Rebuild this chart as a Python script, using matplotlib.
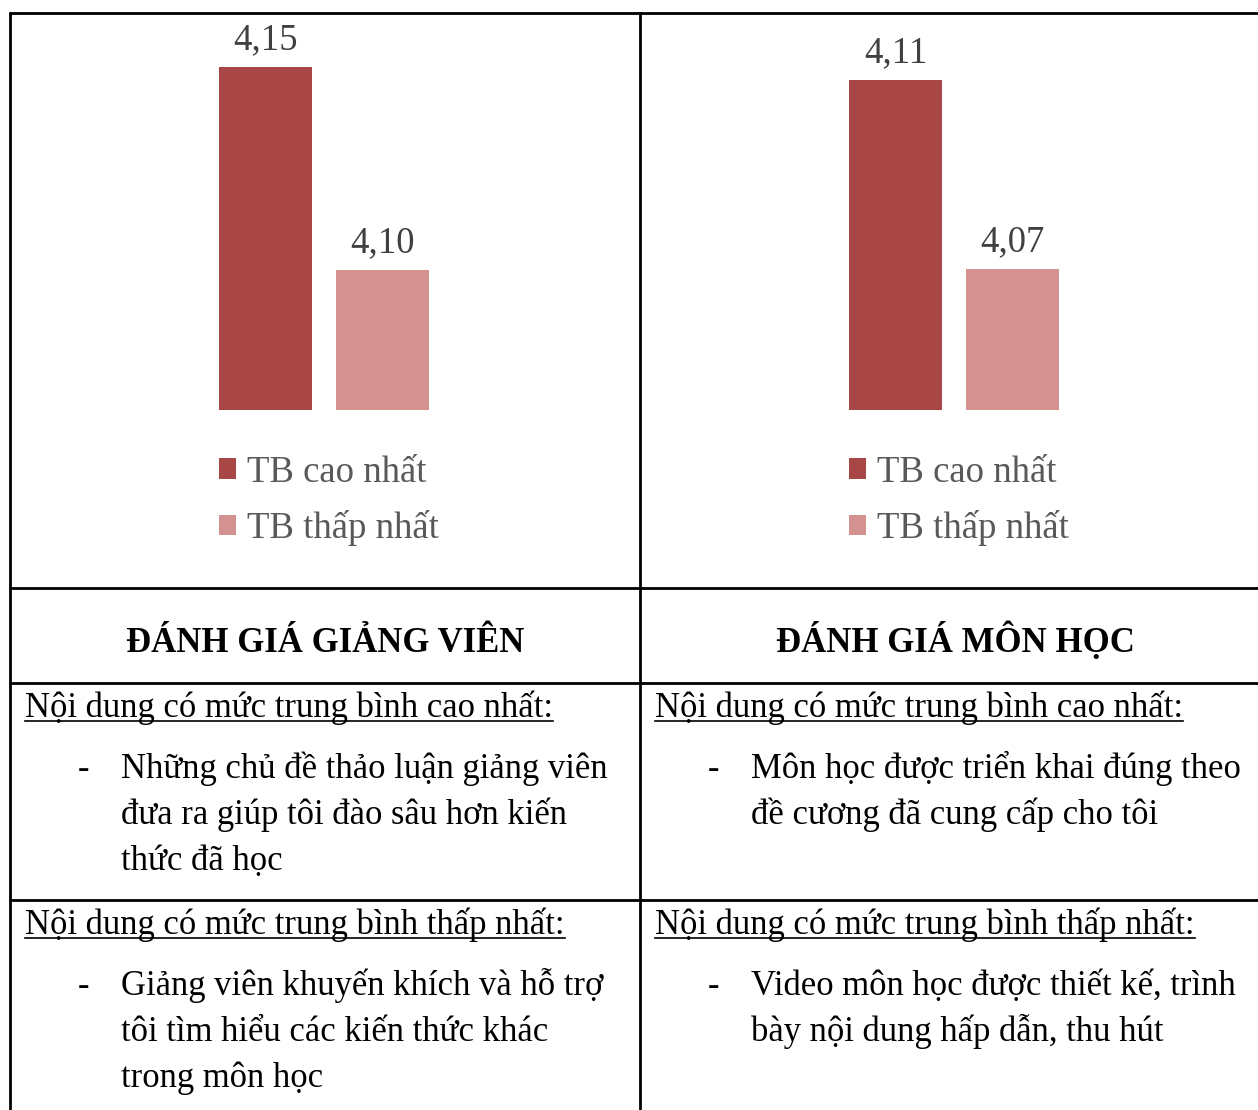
import matplotlib
matplotlib.use("Agg")
import matplotlib.pyplot as plt

plt.rcParams['font.family'] = ['Liberation Serif', 'DejaVu Serif']

# dữ liệu
series = ["TB cao nhất", "TB thấp nhất"]
gv_values = [4.15, 4.10]
mh_values = [4.11, 4.07]
colors = ["#A84745", "#D39290"]
headers = ["ĐÁNH GIÁ GIẢNG VIÊN", "ĐÁNH GIÁ MÔN HỌC"]
row_titles = ["Nội dung có mức trung bình cao nhất:", "Nội dung có mức trung bình thấp nhất:"]
gv_items = [["Những chủ đề thảo luận giảng viên", "đưa ra giúp tôi đào sâu hơn kiến", "thức đã học"],
            ["Giảng viên khuyến khích và hỗ trợ", "tôi tìm hiểu các kiến thức khác", "trong môn học"]]
mh_items = [["Môn học được triển khai đúng theo", "đề cương đã cung cấp cho tôi"],
            ["Video môn học được thiết kế, trình", "bày nội dung hấp dẫn, thu hút"]]

W, H = 1258, 1110
fig = plt.figure(figsize=(W / 100, H / 100), dpi=100)

# lớp nền dùng toạ độ pixel (gốc trên trái)
base = fig.add_axes([0, 0, 1, 1])
base.set_xlim(0, W)
base.set_ylim(H, 0)
base.axis("off")

lw = 2.0
for y in [13, 588, 683, 900]:
    base.plot([9, W], [y, y], color="black", lw=lw, solid_capstyle="butt")
for x in [10, 640]:
    base.plot([x, x], [12, H], color="black", lw=lw, solid_capstyle="butt")


def bar_chart(x_left, values, ylim):
    # trục pixel: x từ x_left tới x_left+351, y từ 13 tới 410
    ax = fig.add_axes([x_left / W, (H - 410) / H, 351 / W, (410 - 13) / H])
    bars = ax.bar([0, 1], values, width=0.795, color=colors, label=series)
    ax.set_xlim(-1, 2)
    ax.set_ylim(*ylim)
    ax.axis("off")
    for b, v in zip(bars, values):
        ax.annotate(f"{v:.2f}".replace(".", ","), (b.get_x() + b.get_width() / 2, v),
                    xytext=(0, 13), textcoords="offset points", ha="center", va="baseline",
                    fontsize=26.5, color="#404040", annotation_clip=False)
    return bars


bars_gv = bar_chart(148.5, gv_values, (4.0655, 4.1633))
bars_mh = bar_chart(778.5, mh_values, (4.0402, 4.1242))

for bars, x0 in [(bars_gv, 219), (bars_mh, 849)]:
    fig.legend(bars, series, loc="upper left", bbox_to_anchor=(x0 / W, 1 - 455 / H),
               frameon=False, fontsize=26.5, labelcolor="#595959",
               handlelength=0.47, handleheight=0.47, handletextpad=0.3,
               labelspacing=0.56, borderpad=0, borderaxespad=0)

# tiêu đề
for cx, t in zip([325, 955], headers):
    base.text(cx, 652, t, ha="center", va="baseline", fontsize=25, fontweight="bold", color="black")

# nội dung
fs = 24.9
titles = []
for col, (x0, items) in enumerate([(25, gv_items), (655, mh_items)]):
    for r, y0 in enumerate([717, 934]):
        t = base.text(x0, y0, row_titles[r], ha="left", va="baseline", fontsize=fs, color="black")
        titles.append(t)
        for k, line in enumerate(items[r]):
            yy = y0 + 61 + 46 * k
            if k == 0:
                base.text(x0 + 53, yy, "-", ha="left", va="baseline", fontsize=fs, color="black")
            base.text(x0 + 96, yy, line, ha="left", va="baseline", fontsize=fs, color="black")

# gạch chân
fig.canvas.draw()
renderer = fig.canvas.get_renderer()
for t in titles:
    bb = t.get_window_extent(renderer)
    x, y = t.get_position()
    base.plot([bb.x0, bb.x1], [y + 4, y + 4], color="black", lw=1.2)

fig.savefig("out.png", dpi=100)
